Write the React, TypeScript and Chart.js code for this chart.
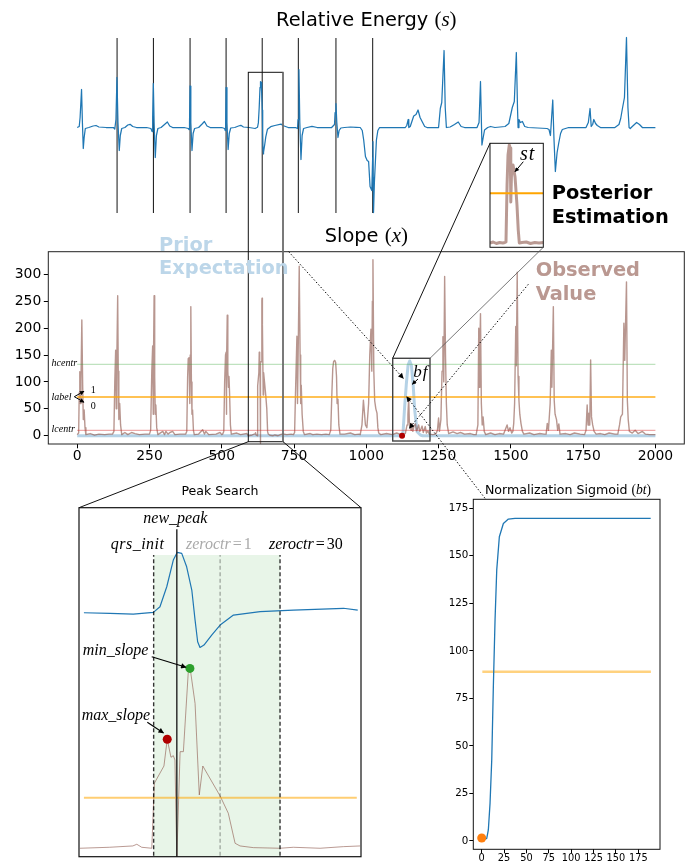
import React, { useEffect, useRef } from 'react';
import { Chart, registerables } from 'chart.js';

Chart.register(...registerables);

const W = 695;
const H = 867;
type P = [number, number];

// ---------------- data ----------------
// ECG (relative energy s), sample index vs amplitude
const ECG: P[] = [
  [0, 0], [7, 0.1], [10, 1.0], [15, 3.8], [18, 0.5], [21, -2.1], [24, -1.0], [28, -0.1], [40, 0], [55, 0.15], [65, 0.2], [75, 0.05], [100, 0], [125, 0], [130, -0.15],
  [134, 0.8], [137.5, 5.0], [141, 0.5], [145.5, -2.3], [149, -0.8], [154, -0.1], [165, 0], [175, 0.25], [183, 0.32], [192, 0.1], [205, 0], [240, 0], [255, -0.1], [259, -0.4],
  [261, 1.0], [263.3, 4.4], [266, 0.5], [270, -3.0], [274, -0.8], [279, -0.1], [290, 0], [302, 0.3], [311.8, 0.55], [320, 0.15], [330, 0], [370, 0], [384, -0.1], [387, -0.2],
  [388.5, 0.5], [390.4, 4.15], [393, 0.5], [397, -2.3], [401, -0.6], [406, -0.1], [420, 0], [432, 0.35], [440, 0.6], [449, 0.15], [460, 0], [500, 0], [510, -0.1], [512, -0.3],
  [513.5, 0.6], [515, 4.0], [518, 0.5], [522, -2.2], [526, -0.6], [531, -0.05], [545, 0], [558, 0.15], [566, 0.22], [575, 0.05],
  [594.1, 0], [605.2, -0.05], [615.2, -0.1], [623.8, 0.03], [626.6, 0.46], [629.5, 1.98], [632.3, 4.01], [634, 4.6], [635.9, 4.52], [638, 3.5], [640.2, 1.73], [641.6, -0.56], [642.7, -2.21], [643.7, -2.64], [645.4, -2.46], [648.7, -1.7], [652.3, -0.94], [658, -0.18], [669.4, 0.08], [683.6, 0.2], [705, 0.34], [711.1, 0.2], [730, 0], [755, 0], [762, -0.1],
  [764, 0.8], [767, 5.8], [770, 0.5], [774, -3.2], [778, -0.8], [783, -0.1], [795, 0], [812, 0.12], [830, 0], [880, 0], [890, 0.3],
  [892, 1.5], [895, 2.4], [898, 0.5], [902, -1.0], [906, -0.3], [912, -0.05], [925, 0], [945, 0.05], [965, 0.02], [979, 0], [986, -0.3], [991, -1.25], [997, -2.9], [1003, -3.3], [1008, -3.4], [1013, -5.9], [1019, -6.3], [1022, -3.0], [1023, -1.4], [1024, -5.0], [1025, -8.5], [1028, -5.5], [1035, -1.25], [1040, -0.3], [1046, 0],
  [1135, 0], [1140, 0.2], [1145, 0.8], [1147, 0], [1152, 0.1], [1164, 1.15], [1172, 1.3], [1179, 1.75], [1186, 1.0], [1193, 0.6], [1202, 0.1], [1210, 0],
  [1250, 0], [1256, 1.9], [1261, 2.5], [1269, 7.7], [1273, 2.0], [1277, 0], [1290, 0.05], [1305, 0.3], [1318, 0.55], [1328, 0.1], [1340, 0],
  [1383, 0], [1390, 0.5], [1395, 4.6], [1400, -1.75], [1405, -0.9], [1409, -0.25], [1420, 0], [1430, 0.1], [1445, 0],
  [1480, 0.1], [1493, 0.4], [1505, 2.0], [1512, 2.6], [1519, 7.5], [1523, 2.0], [1525, 0], [1528, 0.8], [1533, 0.5], [1540, 0.6], [1548, 0.1], [1560, 0],
  [1625, -0.1], [1632, -0.2], [1637, -0.8], [1641, 1.0], [1645, 2.75], [1649, -1.0], [1654, -4.4], [1660, -2.5], [1666, -1.5], [1672, -0.6], [1678, -0.2], [1700, 0],
  [1760, 0], [1768, 0.5], [1770, 0.5], [1774, 1.9], [1778, 0.1], [1783, 0.3], [1787, 0.8], [1793, 0.4], [1799, 0.2], [1810, 0],
  [1860, 0], [1874, 0.3], [1880, 0.9], [1886, 1.9], [1893, 3.0], [1900, 9.0], [1905, 2.0], [1909, 0], [1913, -0.1], [1920, 0.1], [1935, 0.5], [1945, 0.3], [1955, 0], [2000, 0],
];
const R_PEAKS: number[] = [137.9, 263.7, 390.4, 515, 640, 765, 895, 1022];
const R_LINE_SPAN: P = [-8.55, 8.95];

// Slope (x)
const SLOPE: P[] = [
  [0, 2], [5, 5], [7, 80], [9, 119], [11, 60], [13, 100], [16, 215], [19, 90], [21, 30], [24, 48], [27, 15], [30, 2],
  [45, 4], [60, 1], [75, 3], [95, 2], [110, 3],
  [122, 3], [127, 8], [130, 100], [133, 159], [135, 50], [137, 140], [140, 260], [142, 120], [144, 30], [147, 60], [150, 20], [154, 2],
  [165, 6], [175, 2], [188, 6], [200, 4], [215, 2], [235, 3],
  [250, 3], [254, 10], [258, 120], [261, 167], [263, 40], [264, 150], [266, 260], [268, 110], [270, 40], [272, 57], [275, 15], [279, 2],
  [296, 8], [302, 2], [307, 8], [314, 3], [321, 6], [330, 8], [338, 2], [355, 3],
  [375, 3], [379, 8], [382, 110], [384, 143], [387, 145], [389, 80], [390, 60], [391, 150], [393, 240], [395, 100], [397, 40], [399, 48], [402, 10], [405, 2],
  [420, 3], [434, 11], [440, 3], [445, 8], [455, 2], [480, 3], [494, 6], [500, 2],
  [503, 3], [507, 8], [510, 100], [513, 150], [515, 155], [516, 40], [517, 130], [519, 224], [521, 120], [523, 90], [525, 110], [527, 80], [530, 20], [533, 3],
  [552, 5], [565, 2], [587, 4], [592.4, 0],
  [605, 1.4], [615, 3.3], [616.7, 5.7], [618.8, 1.4], [623.1, 0], [624.2, 92.5], [628.3, 117], [629.7, 155], [631.3, 129.4], [632.3, 131.7], [633, 125.6], [633.8, -14], [635.2, 137.4], [636.6, 137.4], [638.7, 251], [639.4, 255.8], [639.7, 251], [641.6, 206], [643.4, 75.8], [644.9, 117], [652.3, 74.4], [655.8, 49.8], [658.7, 7.1], [660.8, 3.3], [666.5, 0.9], [677.9, 0], [683.6, 1.4], [695, 0], [705, 2.3], [712.1, 3.3],
  [725, 2], [740, 3],
  [748, 2], [752, 6], [756, 100], [760, 185], [762, 60], [764, 140], [768, 315], [771, 150], [773, 60], [775, 94], [778, 40], [782, 8], [786, 2],
  [806, 4], [815, 2], [829, 3], [845, 2], [860, 3],
  [872, 2], [877, 10], [881, 80], [884, 125], [887, 138], [891, 140], [894, 136], [897, 110], [899, 60], [902, 68], [905, 20], [909, 3],
  [925, 3], [945, 5], [960, 2], [975, 3],
  [979, 2], [985, 20], [990, 66], [994, 40], [997, 20], [1002, 15], [1008, 60], [1012, 150], [1016, 198], [1019, 120], [1021, 250], [1023, 327], [1026, 120], [1029, 65], [1033, 50], [1037, 42], [1040, 15], [1043, 5], [1050, 2],
  [1070, 4], [1090, 2], [1105, 5], [1120, 2], [1135, 4], [1141, 20], [1144, 40], [1146.7, 69], [1149, 25], [1152, 17], [1155, 10], [1158, 23], [1161, 8], [1165, 18], [1170, 22], [1174, 9], [1178, 15], [1181, 20], [1185, 8], [1190, 14], [1193, 18], [1197, 6], [1204, 17], [1208, 5], [1213, 9], [1218, 3], [1230, 2],
  [1240, 3], [1246, 10], [1250, 33], [1253, 8], [1258, 30], [1262, 120], [1265, 184], [1268, 100], [1271, 296], [1274, 150], [1277, 60], [1280, 20], [1285, 4],
  [1300, 7], [1314, 4], [1326, 6], [1340, 3], [1360, 4], [1372, 2],
  [1380, 2], [1386, 20], [1389, 200], [1391, 90], [1393, 170], [1395, 227], [1398, 60], [1401, 20], [1404, 35], [1408, 8], [1413, 2],
  [1430, 5], [1445, 2], [1460, 4], [1475, 3], [1487, 20], [1492, 8], [1497, 15], [1503, 5],
  [1507, 8], [1510, 23], [1513, 60], [1517, 203], [1519, 130], [1522, 304], [1525, 110], [1528, 66], [1531, 40], [1535, 23], [1540, 8], [1545, 3],
  [1565, 5], [1580, 2], [1600, 4], [1615, 3],
  [1622, 3], [1626, 23], [1630, 10], [1636, 60], [1640, 159], [1642, 90], [1647, 240], [1650, 66], [1653, 40], [1658, 30], [1662, 10], [1666, 22], [1670, 3],
  [1690, 4], [1705, 2], [1720, 5], [1740, 3], [1755, 2],
  [1760, 10], [1764, 57], [1767, 20], [1770, 42], [1773, 20], [1776, 141], [1779, 35], [1783, 20], [1788, 8], [1795, 3],
  [1810, 4], [1825, 2], [1840, 5], [1860, 3],
  [1870, 3], [1876, 20], [1880, 35], [1886, 40], [1891, 209], [1894, 140], [1900, 286], [1903, 66], [1906, 30], [1910, 8], [1920, 5], [1930, 10], [1940, 4], [1955, 8], [1965, 3], [1980, 2], [2000, 2],
];
// Prior expectation (bf)
const PRIOR: P[] = [
  [0, 0], [1123.7, 0], [1127.2, 7.4], [1132.7, 54], [1138.6, 97], [1144.5, 131], [1150, 139], [1155.9, 131], [1161.8, 97], [1167.4, 48], [1175.7, 7.4], [1187, 1.3], [1195, 0], [2000, 0],
];
const PRIOR_ONSET: P = [1123.7, 0];
const HCENTR = 132.7;
const LABEL_LEVEL = 72;
const LCENTR = 10;
const LEVEL_SPAN: P = [0, 2000];
const SLOPE_X_TICKS = [0, 250, 500, 750, 1000, 1250, 1500, 1750, 2000];
const SLOPE_Y_TICKS = [0, 50, 100, 150, 200, 250, 300];

// Posterior estimation inset (st)
const ST: P[] = [
  [0, 2], [3, 3], [6, 1.5], [9, 2.5], [12, 2], [14, 2.5], [15, 3], [16, 60], [16.9, 90], [18.1, 100], [19, 97], [19.5, 43], [20.2, 72], [21.6, 80], [23.5, 68], [25.3, 40], [26.5, 15], [27.5, 2],
  [30, 2.5], [34, 3], [38, 1.5], [42, 2.5], [46, 2], [50, 2.5],
];
const ST_LEVEL = 51.7;

// Normalization sigmoid (bt)
const SIG_X = [0, 3, 5.6, 7.4, 9.3, 11.2, 13, 14.9, 16.8, 19.7, 24.2, 29.8, 37.2, 60, 100, 150, 188.8];
const SIG_Y = [0.5, 0.8, 1.4, 5.8, 19.8, 42.6, 81.2, 116.3, 142.6, 160, 167, 169.3, 169.7, 169.7, 169.7, 169.7, 169.7];
const SIG_LEVEL = 89;
const SIG_LEVEL_SPAN: P = [0.7, 189];
const SIG_START: P = [0, 1.6];
const SIG_TICKS = [0, 25, 50, 75, 100, 125, 150, 175];

// Peak search markers
const QRS_INIT = 623.9;
const NEW_PEAK = 633.8;
const ZEROCTR_1 = 652.3;
const ZEROCTR_30 = 677.9;
const SEARCH_TOP = 417;
const NEW_PEAK_TOP = 453.8;
const MAX_SLOPE: P = [629.7, 155];
const MIN_SLOPE: P = [639.4, 255.8];
const SEARCH_LEVEL_SPAN: P = [594.1, 710.7];
const SEARCH_SIGNAL_SPAN: P = [594.1, 711.1];

// ---------------- layout (px) ----------------
type Area = { l: number; t: number; r: number; b: number };
const TOP_AREA: Area = { l: 48.3, t: 30, r: 684.3, b: 220 };
const MAIN_AREA: Area = { l: 48.3, t: 251.7, r: 684.3, b: 444 };
const ST_AREA: Area = { l: 490, t: 143.3, r: 543.3, b: 247.3 };
const SEARCH_AREA: Area = { l: 79, t: 507.7, r: 361, b: 856.7 };
const SIG_AREA: Area = { l: 473.3, t: 499.3, r: 660, b: 849.3 };

const pad = (a: Area, yW = 0, xH = 0) => ({ left: a.l - yW, top: a.t, right: W - a.r, bottom: H - a.b - xH });

const framePlugin = {
  id: 'frame',
  afterDraw(chart: any, _a: any, opts: any) {
    if (!opts || !opts.color) return;
    const { left, top, right, bottom } = chart.chartArea;
    const ctx = chart.ctx;
    ctx.save();
    ctx.strokeStyle = opts.color;
    ctx.lineWidth = opts.width || 1;
    ctx.strokeRect(left, top, right - left, bottom - top);
    ctx.restore();
  },
};

const pts = (arr: P[]) => arr.map(([x, y]) => ({ x, y }));
const within = (arr: P[], span: P) => arr.filter(([x]) => x >= span[0] && x <= span[1]);
const line = (data: any[], color: string, width: number, extra: any = {}) => ({
  data, borderColor: color, backgroundColor: color, borderWidth: width, pointRadius: 0, fill: false, ...extra,
});
const dot = (p: P, color: string, r: number) => ({
  data: [{ x: p[0], y: p[1] }], showLine: false, pointRadius: r, pointBackgroundColor: color, pointBorderWidth: 0, backgroundColor: color, borderColor: color,
});
const hidden = (min: number, max: number) => ({ type: 'linear', display: false, min, max });

function opts(padding: any, scales: any, frame: any = false) {
  return {
    responsive: false, animation: false, devicePixelRatio: 1, events: [],
    layout: { autoPadding: false, padding },
    plugins: { legend: { display: false }, tooltip: { enabled: false }, frame },
    scales,
    elements: { line: { tension: 0, borderJoinStyle: 'round' } },
  };
}

function axis(min: number, max: number, ticks: number[], size: number, fontSize: number, horiz: boolean, tl: number, tp: number) {
  return {
    type: 'linear', min, max,
    afterBuildTicks: (s: any) => { s.ticks = ticks.map((v) => ({ value: v })); },
    afterFit: (s: any) => {
      if (horiz) s.height = size; else s.width = size;
      s.paddingLeft = 0; s.paddingRight = 0; s.paddingTop = 0; s.paddingBottom = 0;
    },
    ticks: { font: { family: "'DejaVu Sans'", size: fontSize, lineHeight: 1 }, color: '#000', padding: tp, maxRotation: 0, autoSkip: false, callback: (v: any) => String(v) },
    grid: { drawOnChartArea: false, drawTicks: true, tickLength: tl, color: '#000', lineWidth: 1 },
    border: { display: false },
  };
}

const SERIF = "'Liberation Serif', serif";
const SANS = "'DejaVu Sans', sans-serif";

function Txt(p: { x: number; y: number; size: number; children: any; serif?: boolean; bold?: boolean; italic?: boolean; color?: string; center?: boolean; ls?: number }) {
  const asc = p.serif ? 0.8375 : 0.846;
  return (
    <div style={{
      position: 'absolute', left: p.x, top: p.y - asc * p.size, fontSize: p.size, lineHeight: 1,
      fontFamily: p.serif ? SERIF : SANS, fontWeight: p.bold ? 'bold' : 'normal', fontStyle: p.italic ? 'italic' : 'normal',
      color: p.color || '#000', whiteSpace: 'nowrap', transform: p.center ? 'translateX(-50%)' : undefined, letterSpacing: p.ls,
    }}>{p.children}</div>
  );
}
const Mi = ({ children }: any) => <span style={{ fontFamily: SERIF, fontStyle: 'italic', fontSize: '1.08em' }}>{children}</span>;
const Mr = ({ children }: any) => <span style={{ fontFamily: SERIF, fontStyle: 'normal', fontSize: '1.08em' }}>{children}</span>;

export default function App() {
  const topRef = useRef<HTMLCanvasElement>(null);
  const mainRef = useRef<HTMLCanvasElement>(null);
  const stRef = useRef<HTMLCanvasElement>(null);
  const searchRef = useRef<HTMLCanvasElement>(null);
  const sigRef = useRef<HTMLCanvasElement>(null);

  useEffect(() => {
    const charts: Chart[] = [];
    const BROWN = 'rgba(140,86,75,0.62)';
    const BLUE = '#1f77b4';

    const vlines: any[] = [];
    R_PEAKS.forEach((p) => { vlines.push({ x: p, y: R_LINE_SPAN[0] }, { x: p, y: R_LINE_SPAN[1] }, { x: p, y: null }); });

    charts.push(new Chart(topRef.current!, {
      type: 'line',
      data: { datasets: [line(pts(ECG), BLUE, 1.25), line(vlines, 'rgba(0,0,0,0.85)', 1.1, { spanGaps: false })] },
      options: opts(pad(TOP_AREA), { x: hidden(-100, 2100), y: hidden(-9.25, 9.75) }) as any,
    }));

    charts.push(new Chart(mainRef.current!, {
      type: 'line',
      data: {
        datasets: [
          dot(PRIOR_ONSET, '#b00000', 3),
          line(pts([[LEVEL_SPAN[0], LABEL_LEVEL], [LEVEL_SPAN[1], LABEL_LEVEL]]), 'rgba(255,165,0,0.9)', 1.4),
          line(pts([[LEVEL_SPAN[0], LCENTR], [LEVEL_SPAN[1], LCENTR]]), 'rgba(214,39,40,0.4)', 1.2),
          line(pts([[LEVEL_SPAN[0], HCENTR], [LEVEL_SPAN[1], HCENTR]]), 'rgba(44,160,44,0.3)', 1.2),
          line(pts(SLOPE), BROWN, 1.4),
          line(pts(PRIOR), 'rgba(31,119,180,0.33)', 3),
        ],
      },
      options: opts(pad(MAIN_AREA, 48.3, 30), {
        x: axis(-100, 2100, SLOPE_X_TICKS, 30, 13.9, true, 4.3, 1.5),
        y: axis(-15.4, 342, SLOPE_Y_TICKS, 48.3, 13.9, false, 4.5, 2.5),
      }, { color: '#222', width: 1 }) as any,
      plugins: [framePlugin],
    }));

    charts.push(new Chart(stRef.current!, {
      type: 'line',
      data: {
        datasets: [
          line(pts([[0, ST_LEVEL], [50, ST_LEVEL]]), '#ffa500', 2),
          line(pts(ST), 'rgba(140,86,75,0.6)', 3),
        ],
      },
      options: opts(pad(ST_AREA), { x: hidden(0, 50), y: hidden(-2.3, 101.7) }, { color: '#111', width: 1 }) as any,
      plugins: [framePlugin],
    }));

    const vl = (x: number, top: number, color: string, width: number, dash?: number[]) =>
      line(pts([[x, -20], [x, top]]), color, width, dash ? { borderDash: dash } : {});
    charts.push(new Chart(searchRef.current!, {
      type: 'line',
      data: {
        datasets: [
          dot(MIN_SLOPE, '#2ca02c', 4.5),
          dot(MAX_SLOPE, '#b00000', 4.5),
          vl(NEW_PEAK, NEW_PEAK_TOP, '#222', 1.4),
          vl(QRS_INIT, SEARCH_TOP, 'rgba(0,0,0,0.8)', 1.4, [4, 2.5]),
          vl(ZEROCTR_1, SEARCH_TOP, 'rgba(0,0,0,0.3)', 1.4, [4, 2.5]),
          vl(ZEROCTR_30, SEARCH_TOP, 'rgba(0,0,0,0.8)', 1.4, [4, 2.5]),
          line(pts([[SEARCH_LEVEL_SPAN[0], LABEL_LEVEL], [SEARCH_LEVEL_SPAN[1], LABEL_LEVEL]]), 'rgba(255,165,0,0.55)', 2),
          line(pts(within(SLOPE, [592.4, 712.1])), 'rgba(140,86,75,0.6)', 1),
          line(pts(within(ECG, SEARCH_SIGNAL_SPAN)), BLUE, 1.2, { yAxisID: 'y2' }),
          line(pts([[QRS_INIT, SEARCH_TOP], [ZEROCTR_30, SEARCH_TOP]]), 'rgba(0,0,0,0)', 0, { fill: 'start', backgroundColor: 'rgba(44,160,44,0.11)' }),
        ],
      },
      options: opts(pad(SEARCH_AREA), { x: hidden(592, 712.5), y: hidden(-12, 484.4), y2: { ...hidden(-18.58, 8.0), position: 'right' } }, { color: '#111', width: 1.2 }) as any,
      plugins: [framePlugin],
    }));

    charts.push(new Chart(sigRef.current!, {
      type: 'line',
      data: {
        datasets: [
          dot(SIG_START, '#ff7f0e', 4.5),
          line(pts(SIG_X.map((x, i) => [x, SIG_Y[i]] as P)), BLUE, 1.3),
          line(pts([[SIG_LEVEL_SPAN[0], SIG_LEVEL], [SIG_LEVEL_SPAN[1], SIG_LEVEL]]), 'rgba(255,165,0,0.5)', 2.5),
        ],
      },
      options: opts(pad(SIG_AREA, 40, 17.7), {
        x: axis(-9.4, 199.2, SIG_TICKS, 17.7, 9.8, true, 4, 0.3),
        y: axis(-4.37, 179.7, SIG_TICKS, 40, 10.3, false, 4, 1),
      }, { color: '#111', width: 1 }) as any,
      plugins: [framePlugin],
    }));

    return () => { charts.forEach((c) => c.destroy()); };
  }, []);

  const cv: React.CSSProperties = { position: 'absolute', left: 0, top: 0 };
  const dotted = { stroke: '#000', strokeWidth: 1, strokeDasharray: '1.4 2', fill: 'none' } as any;

  return (
    <div style={{ position: 'fixed', left: 0, top: 0, width: W, height: H, overflow: 'hidden', background: '#fff' }}>
      <canvas ref={topRef} width={W} height={H} style={cv} />
      <canvas ref={mainRef} width={W} height={H} style={cv} />
      <canvas ref={stRef} width={W} height={H} style={cv} />
      <canvas ref={searchRef} width={W} height={H} style={cv} />
      <canvas ref={sigRef} width={W} height={H} style={cv} />

      <svg width={W} height={H} style={{ position: 'absolute', left: 0, top: 0 }}>
        <defs>
          <marker id="ah" viewBox="0 0 10 10" refX="9" refY="5" markerWidth="7" markerHeight="5.5" markerUnits="userSpaceOnUse" orient="auto">
            <path d="M0,0L10,5L0,10z" fill="#000" />
          </marker>
          <marker id="ahs" viewBox="0 0 10 10" refX="9" refY="5" markerWidth="6" markerHeight="4.5" markerUnits="userSpaceOnUse" orient="auto">
            <path d="M0,0L10,5L0,10z" fill="#000" />
          </marker>
        </defs>
        {/* zoom box spanning energy + slope panels */}
        <rect x={248.3} y={72.3} width={34.7} height={369.4} fill="none" stroke="#111" strokeWidth={1} />
        <line x1={283} y1={72.3} x2={283} y2={441.7} stroke="#777" strokeWidth={1.6} />
        <line x1={248.3} y1={441.7} x2={79} y2={507.7} stroke="#111" strokeWidth={1} />
        <line x1={283} y1={441.7} x2={361} y2={507.7} stroke="#111" strokeWidth={1} />
        {/* bf box and connectors to st inset */}
        <rect x={392.7} y={358.3} width={37.3} height={82.7} fill="none" stroke="#444" strokeWidth={1.4} />
        <line x1={490} y1={143.3} x2={392.7} y2={358.3} stroke="#111" strokeWidth={1} />
        <line x1={543.3} y1={247.3} x2={430} y2={358.3} stroke="#555" strokeWidth={0.8} />
        {/* dotted arrows */}
        <line x1={288.7} y1={251.7} x2={403.3} y2={378.3} {...dotted} markerEnd="url(#ah)" />
        <line x1={528.3} y1={284.3} x2={409.3} y2={428.3} {...dotted} markerEnd="url(#ah)" />
        <line x1={485} y1={498.3} x2={406.7} y2={396.7} {...dotted} markerEnd="url(#ah)" />
        {/* small annotation arrows */}
        <line x1={74.3} y1={396.7} x2={84} y2={391.2} stroke="#000" strokeWidth={1} markerEnd="url(#ahs)" />
        <line x1={74.3} y1={396.7} x2={84} y2={402.2} stroke="#000" strokeWidth={1} markerEnd="url(#ahs)" />
        <line x1={523.3} y1={161.7} x2={515} y2={171.7} stroke="#000" strokeWidth={1} markerEnd="url(#ahs)" />
        <line x1={418} y1={379} x2={412.3} y2={384.3} stroke="#000" strokeWidth={1} markerEnd="url(#ahs)" />
        <line x1={151.7} y1={656.7} x2={186} y2={667.3} stroke="#000" strokeWidth={1.1} markerEnd="url(#ah)" />
        <line x1={147.3} y1={722.3} x2={163.5} y2={733} stroke="#000" strokeWidth={1.1} markerEnd="url(#ah)" />
      </svg>

      <Txt x={366.3} y={25} size={19.4} center>Relative Energy <Mr>(</Mr><Mi>s</Mi><Mr>)</Mr></Txt>
      <Txt x={366.3} y={241} size={19.4} center>Slope <Mr>(</Mr><Mi>x</Mi><Mr>)</Mr></Txt>
      <Txt x={220} y={495.5} size={12.6} center>Peak Search</Txt>
      <Txt x={568} y={493.3} size={12.6} center>Normalization Sigmoid <Mr>(</Mr><Mi>bt</Mi><Mr>)</Mr></Txt>

      <Txt x={159} y={251.5} size={19.4} bold color="rgb(188,214,233)">Prior</Txt>
      <Txt x={159} y={274} size={19.4} bold color="rgb(188,214,233)">Expectation</Txt>
      <Txt x={535.7} y={276.7} size={19.4} bold color="rgb(186,152,145)">Observed</Txt>
      <Txt x={535.7} y={300.7} size={19.4} bold color="rgb(186,152,145)">Value</Txt>
      <Txt x={551.7} y={199.3} size={19.4} bold>Posterior</Txt>
      <Txt x={551.7} y={223.3} size={19.4} bold>Estimation</Txt>

      <Txt x={520} y={159.3} size={20} serif italic ls={1}>st</Txt>
      <Txt x={413.3} y={377} size={17} serif italic ls={1}>bf</Txt>

      <Txt x={51.5} y={366.5} size={10} serif italic>hcentr</Txt>
      <Txt x={51.5} y={400} size={10} serif italic>label</Txt>
      <Txt x={51.5} y={432.3} size={10} serif italic>lcentr</Txt>
      <Txt x={90.7} y={393} size={10} serif>1</Txt>
      <Txt x={90.7} y={409} size={10} serif>0</Txt>

      <Txt x={143.3} y={523.5} size={16} serif italic>new_peak</Txt>
      <Txt x={110.7} y={549} size={16} serif italic ls={0.5}>qrs_init</Txt>
      <Txt x={186} y={549} size={16} serif italic color="#aaaaaa">zeroctr<span style={{ fontStyle: 'normal', margin: '0 2px' }}>=</span><span style={{ fontStyle: 'normal' }}>1</span></Txt>
      <Txt x={269} y={549} size={16} serif italic>zeroctr<span style={{ fontStyle: 'normal', margin: '0 2px' }}>=</span><span style={{ fontStyle: 'normal' }}>30</span></Txt>
      <Txt x={82.7} y={655} size={16} serif italic>min_slope</Txt>
      <Txt x={81.7} y={720} size={16} serif italic>max_slope</Txt>
    </div>
  );
}
